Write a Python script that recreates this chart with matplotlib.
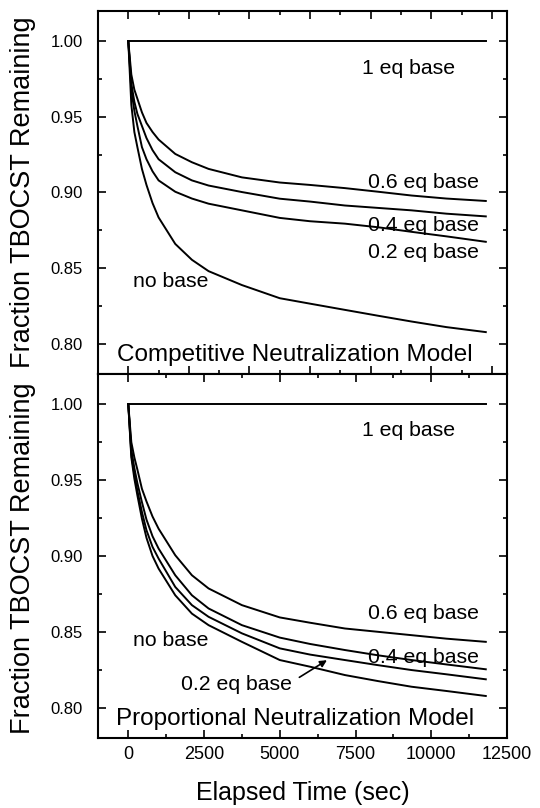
import matplotlib
matplotlib.use('Agg')
import matplotlib.pyplot as plt
from matplotlib.ticker import MultipleLocator, FormatStrFormatter

plt.rcParams['font.family'] = ['Liberation Sans', 'DejaVu Sans']

# elapsed time (sec) at which the simulated fractions are sampled
time_sec = [0, 100, 200, 300, 450, 600, 800, 1000, 1550, 2100, 2650,
            3750, 5000, 6000, 7150, 8250, 9350, 10500, 11800]

# Competitive neutralization model
comp_1eq = [1.0] * len(time_sec)
comp_06eq = [1.0, 0.978, 0.968, 0.962, 0.953, 0.946, 0.940, 0.935, 0.9255, 0.920,
             0.9156, 0.910, 0.9066, 0.905, 0.9029, 0.9005, 0.898, 0.896, 0.8944]
comp_04eq = [1.0, 0.972, 0.960, 0.952, 0.944, 0.936, 0.928, 0.922, 0.9134, 0.908,
             0.9046, 0.9003, 0.8959, 0.894, 0.8914, 0.8898, 0.8882, 0.886, 0.8842]
comp_02eq = [1.0, 0.968, 0.954, 0.944, 0.930, 0.922, 0.914, 0.908, 0.9005, 0.896,
             0.8926, 0.8882, 0.8832, 0.881, 0.8794, 0.877, 0.874, 0.871, 0.8674]
comp_nobase = [1.0, 0.958, 0.940, 0.930, 0.9156, 0.905, 0.893, 0.8835, 0.866, 0.8555,
               0.848, 0.8388, 0.8301, 0.8265, 0.8224, 0.8185, 0.8147, 0.811, 0.8077]

# Proportional neutralization model
prop_1eq = [1.0] * len(time_sec)
prop_06eq = [1.0, 0.975, 0.965, 0.957, 0.9443, 0.936, 0.926, 0.918, 0.9005, 0.8873,
             0.8786, 0.8676, 0.8595, 0.856, 0.8522, 0.850, 0.8478, 0.8455, 0.8434]
prop_04eq = [1.0, 0.970, 0.958, 0.948, 0.9355, 0.924, 0.913, 0.9049, 0.8873, 0.8741,
             0.8654, 0.8544, 0.8462, 0.842, 0.838, 0.8345, 0.8314, 0.8285, 0.8253]
prop_02eq = [1.0, 0.967, 0.954, 0.943, 0.929, 0.917, 0.906, 0.8983, 0.8796, 0.8676,
             0.8599, 0.849, 0.8391, 0.835, 0.8314, 0.828, 0.8248, 0.822, 0.8187]
prop_nobase = [1.0, 0.965, 0.951, 0.940, 0.9246, 0.912, 0.900, 0.8917, 0.8741, 0.862,
               0.8544, 0.8434, 0.8314, 0.827, 0.8215, 0.8175, 0.8138, 0.811, 0.8077]

W, H = 540, 808
fig = plt.figure(figsize=(W / 100, H / 100), dpi=100)


def add_axes_px(left, top, right, bottom):
    return fig.add_axes([left / W, 1 - bottom / H, (right - left) / W, (bottom - top) / H])


ax_top = add_axes_px(98, 11, 507, 374)
ax_bot = add_axes_px(98, 374, 507, 738)

for ax in (ax_top, ax_bot):
    ax.set_xlim(-1000, 12500)
    ax.set_ylim(0.78, 1.02)
    ax.yaxis.set_major_locator(MultipleLocator(0.05))
    ax.yaxis.set_minor_locator(MultipleLocator(0.025))
    ax.yaxis.set_major_formatter(FormatStrFormatter('%.2f'))
    ax.tick_params(which='both', direction='in', top=True, right=True, width=1.2)
    ax.tick_params(which='major', length=5.5)
    ax.tick_params(which='minor', length=3)
    ax.tick_params(axis='y', labelsize=12, pad=11)
    ax.tick_params(axis='x', labelsize=13, pad=6)
    for s in ax.spines.values():
        s.set_linewidth(1.5)

ax_top.xaxis.set_major_locator(MultipleLocator(2000))
ax_top.xaxis.set_minor_locator(MultipleLocator(1000))
ax_top.tick_params(labelbottom=False)
ax_bot.xaxis.set_major_locator(MultipleLocator(2500))
ax_bot.xaxis.set_minor_locator(MultipleLocator(1250))

lw = 1.4
for series in (comp_1eq, comp_06eq, comp_04eq, comp_02eq, comp_nobase):
    ax_top.plot(time_sec, series, color='black', lw=lw)
for series in (prop_1eq, prop_06eq, prop_04eq, prop_02eq, prop_nobase):
    ax_bot.plot(time_sec, series, color='black', lw=lw)

fs = 15.3
ax_top.text(7700, 0.982, '1 eq base', fontsize=fs, va='center')
ax_top.text(7909, 0.9068, '0.6 eq base', fontsize=fs, va='center')
ax_top.text(7909, 0.8779, '0.4 eq base', fontsize=fs, va='center')
ax_top.text(7909, 0.8603, '0.2 eq base', fontsize=fs, va='center')
ax_top.text(148, 0.841, 'no base', fontsize=fs, va='center')
ax_top.text(5500, 0.7928, 'Competitive Neutralization Model', fontsize=17.5,
            ha='center', va='center')

ax_bot.text(7700, 0.9827, '1 eq base', fontsize=fs, va='center')
ax_bot.text(7909, 0.8621, '0.6 eq base', fontsize=fs, va='center')
ax_bot.text(7909, 0.8332, '0.4 eq base', fontsize=fs, va='center')
ax_bot.text(1755, 0.815, '0.2 eq base', fontsize=fs, va='center')
ax_bot.text(148, 0.8441, 'no base', fontsize=fs, va='center')
ax_bot.text(5500, 0.7925, 'Proportional Neutralization Model', fontsize=17.5,
            ha='center', va='center')
ax_bot.annotate('', xy=(6557, 0.8313), xytext=(5646, 0.8200),
                arrowprops=dict(arrowstyle='-|>', color='black', lw=1.2,
                                mutation_scale=10, shrinkA=0, shrinkB=0))

fig.text(23 / W, 1 - 192 / H, 'Fraction TBOCST Remaining', rotation=90,
         fontsize=19.5, ha='center', va='center')
fig.text(23 / W, 1 - 558 / H, 'Fraction TBOCST Remaining', rotation=90,
         fontsize=19.5, ha='center', va='center')
fig.text(302.5 / W, 1 - 793 / H, 'Elapsed Time (sec)', fontsize=18,
         ha='center', va='center')

fig.savefig('out.png', dpi=100)
